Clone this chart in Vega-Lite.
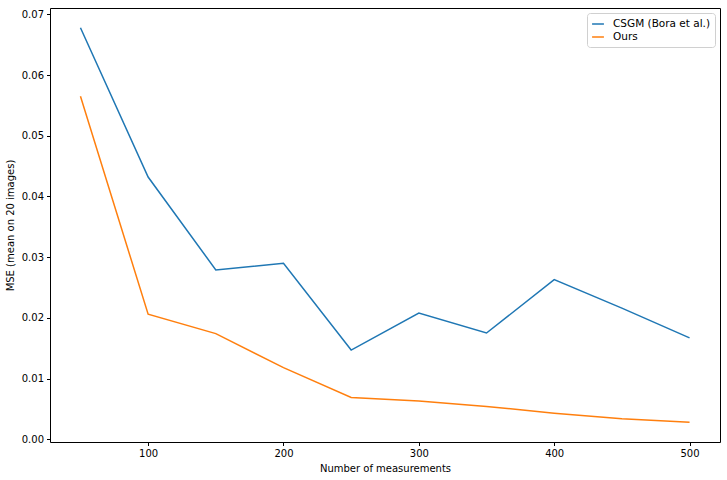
{
  "$schema": "https://vega.github.io/schema/vega-lite/v6.json",
  "autosize": "none",
  "padding": {"left": 50, "top": 8, "right": 7, "bottom": 38},
  "width": 670,
  "height": 434,
  "background": "white",
  "data": {
    "values": [
      {"m": 50, "mse": 0.0678, "method": "CSGM (Bora et al.)"},
      {"m": 100, "mse": 0.0432, "method": "CSGM (Bora et al.)"},
      {"m": 150, "mse": 0.0279, "method": "CSGM (Bora et al.)"},
      {"m": 200, "mse": 0.0290, "method": "CSGM (Bora et al.)"},
      {"m": 250, "mse": 0.0147, "method": "CSGM (Bora et al.)"},
      {"m": 300, "mse": 0.0208, "method": "CSGM (Bora et al.)"},
      {"m": 350, "mse": 0.0175, "method": "CSGM (Bora et al.)"},
      {"m": 400, "mse": 0.0263, "method": "CSGM (Bora et al.)"},
      {"m": 450, "mse": 0.0216, "method": "CSGM (Bora et al.)"},
      {"m": 500, "mse": 0.0167, "method": "CSGM (Bora et al.)"},
      {"m": 50, "mse": 0.0565, "method": "Ours"},
      {"m": 100, "mse": 0.0206, "method": "Ours"},
      {"m": 150, "mse": 0.0174, "method": "Ours"},
      {"m": 200, "mse": 0.0118, "method": "Ours"},
      {"m": 250, "mse": 0.0069, "method": "Ours"},
      {"m": 300, "mse": 0.0063, "method": "Ours"},
      {"m": 350, "mse": 0.0054, "method": "Ours"},
      {"m": 400, "mse": 0.0043, "method": "Ours"},
      {"m": 450, "mse": 0.0034, "method": "Ours"},
      {"m": 500, "mse": 0.0028, "method": "Ours"}
    ]
  },
  "mark": {"type": "line", "strokeWidth": 1.5},
  "encoding": {
    "x": {
      "field": "m",
      "type": "quantitative",
      "title": "Number of measurements",
      "scale": {"domain": [27.5, 522.5], "nice": false, "zero": false},
      "axis": {"values": [100, 200, 300, 400, 500], "grid": false, "titlePadding": 5}
    },
    "y": {
      "field": "mse",
      "type": "quantitative",
      "title": "MSE (mean on 20 images)",
      "scale": {"domain": [-0.00045, 0.07105], "nice": false, "zero": false},
      "axis": {"values": [0, 0.01, 0.02, 0.03, 0.04, 0.05, 0.06, 0.07], "format": ".2f", "grid": false, "titlePadding": 6}
    },
    "color": {
      "field": "method",
      "type": "nominal",
      "title": null,
      "scale": {"domain": ["CSGM (Bora et al.)", "Ours"], "range": ["#1f77b4", "#ff7f0e"]},
      "legend": {
        "orient": "top-right",
        "offset": 5,
        "symbolType": "stroke",
        "symbolSize": 140,
        "symbolStrokeWidth": 1.5,
        "strokeColor": "#d0d0d0",
        "fillColor": "white",
        "padding": 4,
        "cornerRadius": 3,
        "labelFontSize": 10.5,
        "labelOffset": 8,
        "rowPadding": 0
      }
    }
  },
  "config": {
    "font": "DejaVu Sans",
    "view": {"stroke": "black", "strokeWidth": 1},
    "axis": {
      "domain": false,
      "tickColor": "black",
      "tickSize": 3.5,
      "labelColor": "black",
      "labelFontSize": 10,
      "labelPadding": 3,
      "titleFontSize": 10,
      "titleFontWeight": "normal",
      "titleColor": "black"
    },
    "legend": {"labelColor": "black"}
  }
}
